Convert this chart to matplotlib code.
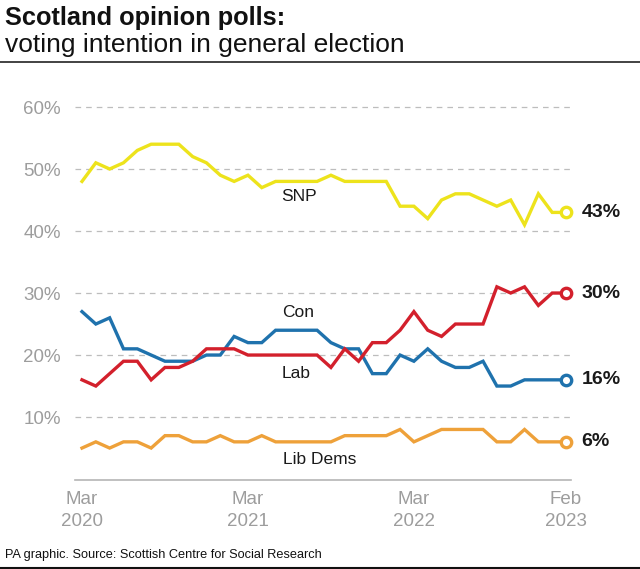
import matplotlib
matplotlib.use("Agg")
import matplotlib.pyplot as plt
from matplotlib.lines import Line2D

plt.rcParams['font.family'] = ['Liberation Sans', 'DejaVu Sans']

# Monthly polls, Mar 2020 .. Feb 2023
months = list(range(36))
snp = [48, 51, 50, 51, 53, 54, 54, 54, 52, 51, 49, 48, 49, 47, 48, 48, 48, 48,
       49, 48, 48, 48, 48, 44, 44, 42, 45, 46, 46, 45, 44, 45, 41, 46, 43, 43]
con = [27, 25, 26, 21, 21, 20, 19, 19, 19, 20, 20, 23, 22, 22, 24, 24, 24, 24,
       22, 21, 21, 17, 17, 20, 19, 21, 19, 18, 18, 19, 15, 15, 16, 16, 16, 16]
lab = [16, 15, 17, 19, 19, 16, 18, 18, 19, 21, 21, 21, 20, 20, 20, 20, 20, 20,
       18, 21, 19, 22, 22, 24, 27, 24, 23, 25, 25, 25, 31, 30, 31, 28, 30, 30]
libdem = [5, 6, 5, 6, 6, 5, 7, 7, 6, 6, 7, 6, 6, 7, 6, 6, 6, 6,
          6, 7, 7, 7, 7, 8, 6, 7, 8, 8, 8, 8, 6, 6, 8, 6, 6, 6]

series_names = ["SNP", "Con", "Lab", "Lib Dems"]
series_values = [snp, con, lab, libdem]
series_colors = ["#ede31c", "#1f72ad", "#d3202c", "#eea13a"]
label_pos = [(15.7, 45.6), (15.6, 26.8), (15.5, 17.1), (17.2, 3.2)]

y_ticks = [10, 20, 30, 40, 50, 60]
y_tick_labels = ["10%", "20%", "30%", "40%", "50%", "60%"]
x_ticks = [0, 12, 24, 35]
x_tick_labels = ["Mar\n2020", "Mar\n2021", "Mar\n2022", "Feb\n2023"]

W, H = 640, 569
fig = plt.figure(figsize=(W / 100, H / 100), dpi=100)

# axes placement in pixels
ax_left, ax_right = 75, 571
ax_top, ax_bottom = 97.7, 480.3
ax = fig.add_axes([ax_left / W, 1 - ax_bottom / H,
                   (ax_right - ax_left) / W, (ax_bottom - ax_top) / H])
ax.set_xlim(-0.506, 35.36)
ax.set_ylim(-0.2, 61.5)

for s in ["top", "right", "left"]:
    ax.spines[s].set_visible(False)
ax.spines["bottom"].set_color("#b5b5b5")
ax.spines["bottom"].set_linewidth(1.2)

ax.set_yticks(y_ticks)
ax.set_yticklabels(y_tick_labels)
ax.set_xticks(x_ticks)
ax.set_xticklabels(x_tick_labels, linespacing=1.35)
ax.tick_params(axis="both", length=0, colors="#9d9d9d", labelsize=13.5)
ax.tick_params(axis="y", pad=10)
ax.tick_params(axis="x", pad=8)
ax.grid(axis="y", color="#bdbdbd", linestyle=(0, (4.5, 4)), linewidth=0.9)
ax.set_axisbelow(True)

for name, vals, col, (lx, ly) in zip(series_names, series_values, series_colors, label_pos):
    ax.plot(months, vals, color=col, linewidth=2.4, solid_joinstyle="miter",
            zorder=3, clip_on=False)
    ax.plot([months[-1]], [vals[-1]], marker="o", markersize=7.5,
            markerfacecolor="white", markeredgecolor=col, markeredgewidth=2.4,
            zorder=4, clip_on=False)
    ax.annotate(f"{vals[-1]}%", xy=(months[-1], vals[-1]), xytext=(11, 0),
                textcoords="offset points", ha="left", va="center",
                fontsize=14, fontweight="bold", color="#1a1a1a",
                annotation_clip=False)
    ax.text(lx, ly, name, ha="center", va="center", fontsize=12.5,
            color="#1a1a1a", zorder=5)

# Titles
fig.text(5 / W, 1 - 18 / H, "Scotland opinion polls:", ha="left", va="center",
         fontsize=18.3, fontweight="bold", color="#111111")
fig.text(5 / W, 1 - 45 / H, "voting intention in general election", ha="left",
         va="center", fontsize=19, color="#111111")
fig.add_artist(Line2D([0, 1], [1 - 62 / H, 1 - 62 / H], transform=fig.transFigure,
                      color="#222222", linewidth=1.2))

# Source
fig.text(5 / W, 1 - 555 / H, "PA graphic. Source: Scottish Centre for Social Research",
         ha="left", va="center", fontsize=9.2, color="#111111")
fig.add_artist(Line2D([0, 1], [1 - 568 / H, 1 - 568 / H], transform=fig.transFigure,
                      color="#111111", linewidth=1.5))

fig.savefig("out.png", dpi=100, facecolor="white")
